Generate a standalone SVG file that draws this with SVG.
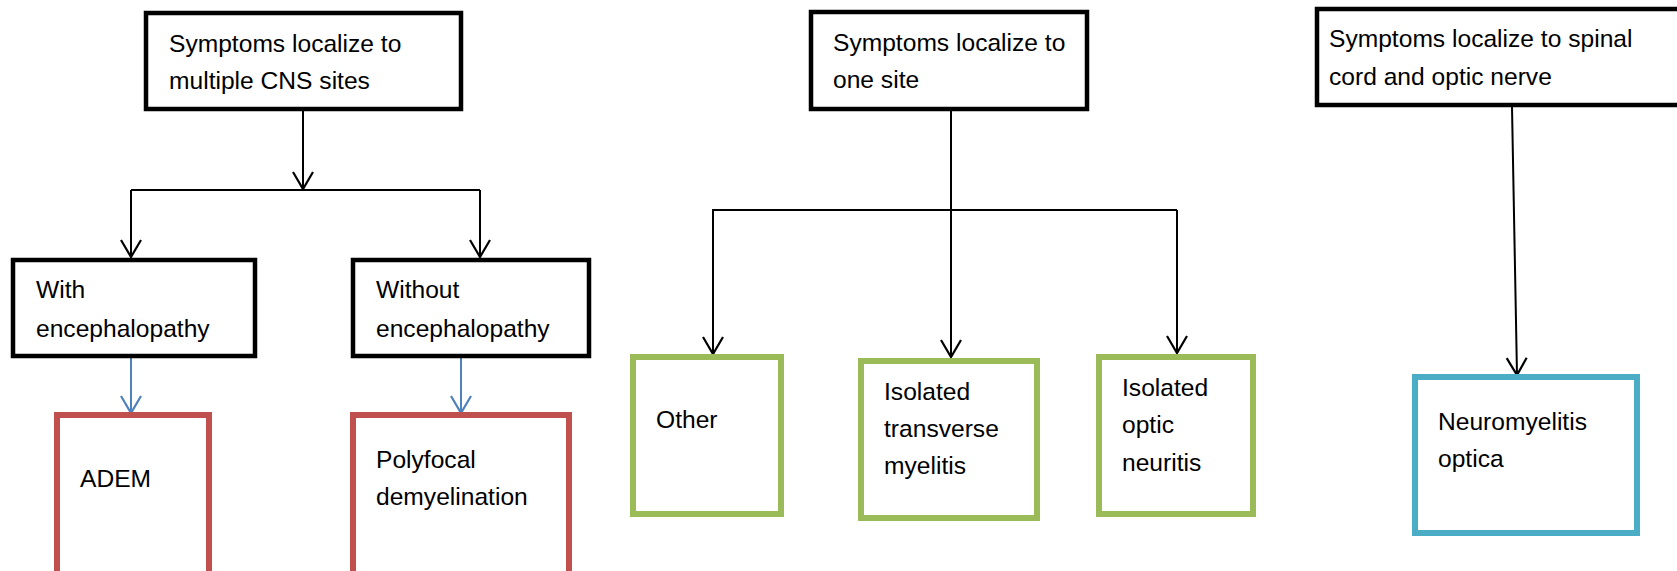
<svg xmlns="http://www.w3.org/2000/svg" width="1677" height="571" viewBox="0 0 1677 571">
<style>
.bk{fill:#fff;stroke:#000;stroke-width:4.5}
.rd{fill:#fff;stroke:#C0504D;stroke-width:6}
.gr{fill:#fff;stroke:#9BBB59;stroke-width:6}
.cy{fill:#fff;stroke:#4BACC6;stroke-width:6}
.t{font-family:"Liberation Sans",Arial,sans-serif;font-size:24.6px;fill:#000}
.c{fill:none;stroke:#000;stroke-width:2}
.cb{fill:none;stroke:#4F81BD;stroke-width:2}
</style>
<defs>
<marker id="ah" markerUnits="userSpaceOnUse" viewBox="-20 -12 22 24" refX="0" refY="0" markerWidth="22" markerHeight="24" orient="auto" overflow="visible">
<path d="M-17,-10 L0,0 L-17,10" fill="none" stroke="#000" stroke-width="2.2"/>
</marker>
<marker id="ahb" markerUnits="userSpaceOnUse" viewBox="-20 -12 22 24" refX="0" refY="0" markerWidth="22" markerHeight="24" orient="auto" overflow="visible">
<path d="M-17,-10 L0,0 L-17,10" fill="none" stroke="#4F81BD" stroke-width="2.2"/>
</marker>
</defs>
<rect width="1677" height="571" fill="#fff"/>
<g id="connectors">
<line class="c" x1="303" y1="111" x2="303" y2="189" marker-end="url(#ah)"/>
<line class="c" x1="131" y1="190" x2="480" y2="190"/>
<line class="c" x1="131" y1="190" x2="131" y2="257" marker-end="url(#ah)"/>
<line class="c" x1="480" y1="190" x2="480" y2="257" marker-end="url(#ah)"/>
<line class="cb" x1="131" y1="358" x2="131" y2="413" marker-end="url(#ahb)"/>
<line class="cb" x1="461" y1="358" x2="461" y2="413" marker-end="url(#ahb)"/>
<line class="c" x1="951" y1="111" x2="951" y2="357" marker-end="url(#ah)"/>
<line class="c" x1="712" y1="210" x2="1177" y2="210"/>
<line class="c" x1="713" y1="210" x2="713" y2="354" marker-end="url(#ah)"/>
<line class="c" x1="1177" y1="210" x2="1177" y2="353" marker-end="url(#ah)"/>
<line class="c" x1="1512" y1="107" x2="1517" y2="375" marker-end="url(#ah)"/>
</g>
<g id="n-multi">
<rect class="bk" x="146" y="13" width="315" height="96"/>
<text class="t" x="169" y="52">Symptoms localize to</text>
<text class="t" x="169" y="89">multiple CNS sites</text>
</g>
<g id="n-with">
<rect class="bk" x="13" y="260" width="242" height="96"/>
<text class="t" x="36" y="298">With</text>
<text class="t" x="36" y="337">encephalopathy</text>
</g>
<g id="n-without">
<rect class="bk" x="353" y="260" width="236" height="96"/>
<text class="t" x="376" y="298">Without</text>
<text class="t" x="376" y="337">encephalopathy</text>
</g>
<g id="n-adem">
<rect class="rd" x="57" y="415" width="152" height="180"/>
<text class="t" x="80" y="487">ADEM</text>
</g>
<g id="n-poly">
<rect class="rd" x="353" y="415" width="216" height="180"/>
<text class="t" x="376" y="468">Polyfocal</text>
<text class="t" x="376" y="505">demyelination</text>
</g>
<g id="n-one">
<rect class="bk" x="811" y="12" width="276" height="97"/>
<text class="t" x="833" y="51">Symptoms localize to</text>
<text class="t" x="833" y="88">one site</text>
</g>
<g id="n-other">
<rect class="gr" x="633" y="357" width="148" height="157"/>
<text class="t" x="656" y="428">Other</text>
</g>
<g id="n-itm">
<rect class="gr" x="861" y="361" width="176" height="157"/>
<text class="t" x="884" y="400">Isolated</text>
<text class="t" x="884" y="437">transverse</text>
<text class="t" x="884" y="474">myelitis</text>
</g>
<g id="n-ion">
<rect class="gr" x="1099" y="357" width="154" height="157"/>
<text class="t" x="1122" y="396">Isolated</text>
<text class="t" x="1122" y="433">optic</text>
<text class="t" x="1122" y="471">neuritis</text>
</g>
<g id="n-spinal">
<rect class="bk" x="1317" y="9" width="380" height="96"/>
<text class="t" x="1329" y="47">Symptoms localize to spinal</text>
<text class="t" x="1329" y="85">cord and optic nerve</text>
</g>
<g id="n-nmo">
<rect class="cy" x="1415" y="377" width="222" height="156"/>
<text class="t" x="1438" y="430">Neuromyelitis</text>
<text class="t" x="1438" y="467">optica</text>
</g>
</svg>
